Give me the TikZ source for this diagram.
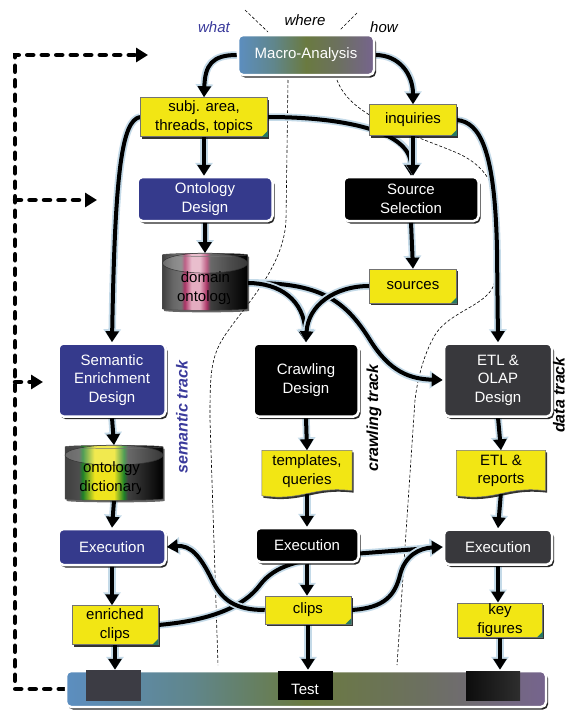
\documentclass[tikz,border=0pt]{standalone}
\usepackage{fontspec}
\setmainfont{Liberation Sans}
\usetikzlibrary{arrows.meta,shapes.geometric,shadows,calc}

\definecolor{semblue}{RGB}{53,58,140}
\definecolor{datagray}{RGB}{56,56,60}
\definecolor{noteyellow}{RGB}{242,230,20}
\definecolor{barblue}{RGB}{92,142,192}
\definecolor{barteal}{RGB}{96,134,140}
\definecolor{bargreen}{RGB}{106,122,64}
\definecolor{barolive}{RGB}{108,112,96}
\definecolor{barpurple}{RGB}{118,100,142}
\definecolor{halo}{RGB}{196,218,232}
\definecolor{earteal}{RGB}{40,120,100}
\definecolor{trackblue}{RGB}{58,58,155}
\definecolor{cylpink}{RGB}{170,50,100}
\definecolor{cylrose}{RGB}{228,172,192}
\definecolor{cylgreen}{RGB}{30,130,40}
\definecolor{cylyellow}{RGB}{238,228,30}
\definecolor{testgray}{RGB}{60,60,68}

\pgfdeclarelayer{conn}
\pgfdeclarelayer{docs}
\pgfsetlayers{conn,docs,main}

\pgfdeclarehorizontalshading{pinkcyl}{100bp}{color(0bp)=(black!75); color(25bp)=(black!75); color(31bp)=(black!60); color(36bp)=(black!55); color(38bp)=(cylpink); color(42bp)=(cylrose); color(47bp)=(cylrose); color(51bp)=(cylpink); color(53bp)=(black!75); color(65bp)=(black!90); color(75bp)=(black); color(100bp)=(black)}
\pgfdeclarehorizontalshading{yellowcyl}{100bp}{color(0bp)=(black!75); color(25bp)=(black!75); color(32bp)=(black!70); color(34bp)=(cylgreen); color(40bp)=(cylyellow); color(50bp)=(cylyellow); color(55bp)=(cylgreen); color(57bp)=(black!75); color(68bp)=(black!90); color(75bp)=(black); color(100bp)=(black)}
\pgfdeclarehorizontalshading{tracksbar}{100bp}{color(0bp)=(barblue); color(25bp)=(barblue); color(38bp)=(barteal); color(50bp)=(bargreen); color(62bp)=(barolive); color(75bp)=(barpurple); color(100bp)=(barpurple)}

\newcommand\boxfont{\fontsize{15}{18.5}\selectfont}
\newcommand\trackfont{\fontsize{16}{19}\selectfont\bfseries\itshape}
\newcommand\askfont{\fontsize{15}{18}\selectfont\itshape}

% yellow sheet with a wavy lower edge, drawn round a node
\newcommand\docshape[1]{%
  \fill[noteyellow,draw=black!55,line width=.5pt,
    drop shadow={shadow xshift=1.5pt,shadow yshift=-2pt,opacity=.8,fill=black}]
    (#1.north west) -- (#1.north east) -- ($(#1.south east)+(0,-1)$)
    .. controls ($(#1.south east)+(-40,-6)$) and ($(#1.south west)+(40,10)$) .. ($(#1.south west)+(0,4)$) -- cycle;}

\begin{document}
\begin{tikzpicture}[x=1pt,y=-1pt,
  phase/.style={rounded corners=5pt,draw=white,line width=2.5pt,text=white,align=center,font=\boxfont,inner sep=2pt,
    drop shadow={shadow xshift=2pt,shadow yshift=-2.5pt,opacity=.85,fill=black}},
  sembox/.style={phase,fill=semblue},
  crawlbox/.style={phase,fill=black},
  databox/.style={phase,fill=datagray},
  barbox/.style={phase,shading=tracksbar},
  note/.style={fill=noteyellow,draw=black!55,line width=.5pt,align=center,font=\boxfont,inner sep=1pt,
    drop shadow={shadow xshift=1.5pt,shadow yshift=-2pt,opacity=.8,fill=black}},
  docnote/.style={align=center,font=\boxfont,inner sep=1pt},
  dbcyl/.style={cylinder,shape border rotate=90,aspect=.45,draw=black!70,line width=.5pt,
    drop shadow={shadow xshift=1.5pt,shadow yshift=-2pt,opacity=.6,fill=black}},
  dblid/.style={fill=white,fill opacity=.22,draw=black!80,line width=.5pt},
  dbtext/.style={align=center,font=\boxfont,inner sep=0pt},
  conn/.style={line width=4pt,-{Triangle[length=11pt,width=13pt]},
    preaction={draw=halo,line width=7.5pt,-{Triangle[length=13pt,width=17pt]}}},
  lane/.style={line width=.6pt,dash pattern=on 3pt off 2pt},
  fbk/.style={line width=4.5pt,line cap=round,dash pattern=on 6pt off 8.5pt,-{Triangle[length=12pt,width=14pt]}},
  trackname/.style={rotate=90,font=\trackfont},
  askname/.style={font=\askfont}]
\path[use as bounding box] (0,0) rectangle (567,715);

% question heads
\node[askname,text=trackblue] (what) at (214,27) {what};
\node[askname] (where) at (305,20) {where};
\node[askname] (how) at (384,27) {how};

% phases and artifacts
\node[barbox,minimum width=136pt,minimum height=40pt] (macro) at (306,55) {Macro-Analysis};
\node[note,minimum width=127pt,minimum height=39pt] (subj) at (204,117) {subj. area,\\threads, topics};
\node[note,minimum width=87pt,minimum height=31pt] (inq) at (413,120) {inquiries};
\node[sembox,minimum width=135pt,minimum height=44pt] (ontd) at (205,199) {Ontology\\Design};
\node[crawlbox,minimum width=135pt,minimum height=44pt] (srcsel) at (411,199) {Source\\Selection};
\node[dbcyl,shading=pinkcyl,minimum width=85pt,minimum height=57pt] (domont) at (205,283) {};
\fill[dblid] ($(domont.north)+(0,10)$) ellipse [x radius=42.5,y radius=10];
\node[note,minimum width=87pt,minimum height=34pt] (srcs) at (413,286) {sources};
\node[sembox,minimum width=107pt,minimum height=73pt] (semd) at (112,380) {Semantic\\Enrichment\\Design};
\node[crawlbox,minimum width=105pt,minimum height=73pt] (crawld) at (306,380) {Crawling\\Design};
\node[databox,minimum width=108pt,minimum height=73pt] (etld) at (498,380) {ETL \&\\OLAP\\Design};
\node[dbcyl,shading=yellowcyl,minimum width=98pt,minimum height=55pt] (ontdict) at (114,474) {};
\fill[dblid] ($(ontdict.north)+(0,10)$) ellipse [x radius=49,y radius=10];
\node[docnote,minimum width=90pt,minimum height=41pt] (tmpl) at (307,471) {templates,\\queries};
\node[docnote,minimum width=89pt,minimum height=41pt] (etlrep) at (501,471) {ETL \&\\reports};
\node[sembox,minimum width=107pt,minimum height=36pt] (exsem) at (112,547) {Execution};
\node[crawlbox,minimum width=103pt,minimum height=34pt] (excrawl) at (307,545) {Execution};
\node[databox,minimum width=108pt,minimum height=35pt] (exdata) at (498,547) {Execution};
\node[note,minimum width=86pt,minimum height=39pt] (eclips) at (115,625) {enriched\\clips};
\node[note,minimum width=86pt,minimum height=28pt] (clips) at (308,610) {clips};
\node[note,minimum width=85pt,minimum height=34pt] (keyfig) at (500,620) {key\\figures};
\node[barbox,minimum width=480pt,minimum height=36pt] (test) at (306,689) {};
\fill[testgray] (86,670) rectangle (141,701);
\shade[left color=black!95,right color=black!82] (466,671) rectangle (520,700);
\node[fill=black,text=white,font=\boxfont,minimum width=55pt,minimum height=29pt,inner sep=0pt,text height=18pt,text depth=0pt] (testlbl) at (305,685.5) {Test};

% texts in the cylinders
\begin{scope}
\clip (176,262) rectangle (229,308);
\node[dbtext] (domtxt) at (205.5,288) {domain\\ontology};
\end{scope}
\begin{scope}
\clip (80,455) rectangle (140,498);
\node[dbtext] (dicttxt) at (111.5,478) {ontology\\dictionary};
\end{scope}

% track names
\node[trackname,text=trackblue] (semtrack) at (182,417) {semantic track};
\node[trackname] (crawltrack) at (374,418) {crawling track};
\node[trackname] (datatrack) at (559,395) {data track};

% folded corners
\foreach \n in {subj,inq,srcs,eclips,clips,keyfig}
  \fill[earteal] (\n.south east) -- ++(-6,0) -- ++(6,-6) -- cycle;

\begin{pgfonlayer}{docs}
\docshape{tmpl}
\docshape{etlrep}
\end{pgfonlayer}

\begin{pgfonlayer}{conn}
% lane borders
\draw[lane] (245,10) -- (268,32);
\draw[lane] (357,13) -- (340,30);
\draw[lane] (288,80) -- (286,220) .. controls (284,270) and (240,310) .. (222,340)
  .. controls (210,360) and (210,380) .. (210,420) -- (218,665);
\draw[lane] (337,80) .. controls (350,115) and (400,130) .. (450,150)
  .. controls (490,165) and (498,190) .. (498,225) -- (495,280)
  .. controls (492,305) and (450,310) .. (435,335)
  .. controls (425,352) and (418,375) .. (415,400) -- (397,665);

% feedback
\coordinate (rail) at (15,689);
\coordinate (fbtop) at (148,55);
\coordinate (fbmid) at (97,200);
\coordinate (fblow) at (43,382);
\draw[fbk] (test.west) -- (rail) |- (fbtop);
\draw[fbk] (rail |- fbmid) -- (fbmid);
\draw[fbk] (rail |- fblow) -- (fblow);

% flow
\draw[conn] (macro.west) .. controls (212,55) and (205,65) .. (subj.north);
\draw[conn] (macro.east) .. controls (400,55) and (413,75) .. (inq.north);
\draw[conn] (subj.south) -- (subj.south |- ontd.north);
\draw[conn] (subj.west) .. controls (122,120) and (115,170) .. (semd.north);
\draw[conn] (subj.east) .. controls (340,117) and (411,130) .. (srcsel.north);
\draw[conn] (inq.south) -- (inq.south |- srcsel.north);
\draw[conn] (inq.east) .. controls (480,122) and (495,150) .. (497,250) -- (etld.north);
\draw[conn] (ontd.south) -- (domont.north);
\draw[conn] (srcsel.south) -- (srcs.north);
\draw[conn] (domont.east) .. controls (320,282) and (345,300) .. (370,340)
  .. controls (390,372) and (410,379) .. (etld.west);
\draw[conn] (domont.east) .. controls (280,283) and (304,300) .. (crawld.north);
\draw[conn] (srcs.west) .. controls (335,286) and (308,305) .. (crawld.north);
\draw[conn] (semd.south) -- (ontdict.north);
\draw[conn] (crawld.south) -- (tmpl.north);
\draw[conn] (etld.south) -- (etlrep.north);
\draw[conn] (ontdict.south) -- (exsem.north);
\draw[conn] (tmpl.south) -- (excrawl.north);
\draw[conn] (etlrep.south) -- (exdata.north);
\draw[conn] (exsem.south) -- (exsem.south |- eclips.north);
\draw[conn] (excrawl.south) -- (excrawl.south |- clips.north);
\draw[conn] (exdata.south) -- (exdata.south |- keyfig.north);
\draw[conn] (eclips.south) -- (eclips.south |- test.north);
\draw[conn] (clips.south) -- (clips.south |- test.north);
\draw[conn] (keyfig.south) -- (keyfig.south |- test.north);
\draw[conn] (eclips.east) .. controls (215,620) and (245,605) .. (260,585)
  .. controls (275,565) and (300,560) .. (340,555) -- (exdata.west);
\draw[conn] (clips.east) .. controls (385,608) and (395,595) .. (400,575)
  .. controls (405,555) and (420,548) .. (exdata.west);
\draw[conn] (clips.west) .. controls (235,610) and (222,600) .. (212,580)
  .. controls (200,555) and (190,545) .. (exsem.east);
\end{pgfonlayer}
\end{tikzpicture}
\end{document}
